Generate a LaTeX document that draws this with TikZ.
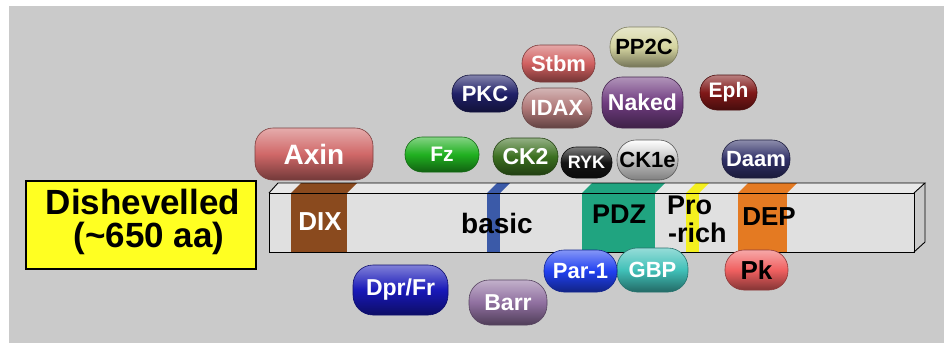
\documentclass[tikz,border=0pt]{standalone}
\usepackage{fontspec}
\setmainfont{Liberation Sans}
\newcommand\pfs[1]{\fontsize{#1}{#1}\selectfont\bfseries}
\definecolor{bggray}{HTML}{CACACA}
\definecolor{barface}{HTML}{E0E0E0}
\definecolor{bartop}{HTML}{E8E8E8}
\definecolor{dixbrown}{HTML}{8A4A1E}
\definecolor{basicblue}{HTML}{3B5AA8}
\definecolor{pdzgreen}{HTML}{20A480}
\definecolor{proyellow}{HTML}{F4F020}
\definecolor{deporange}{HTML}{E47A22}
\definecolor{dvlyellow}{HTML}{FFFF22}
\definecolor{cAxin}{HTML}{D06868}
\definecolor{cFz}{HTML}{20B020}
\definecolor{cCKtwo}{HTML}{3C7020}
\definecolor{cRYK}{HTML}{141414}
\definecolor{cCKone}{HTML}{D8D8D8}
\definecolor{cDaam}{HTML}{303068}
\definecolor{cPKC}{HTML}{202068}
\definecolor{cStbm}{HTML}{D06060}
\definecolor{cPPtwoC}{HTML}{D4D4A0}
\definecolor{cIDAX}{HTML}{B07878}
\definecolor{cNaked}{HTML}{703C80}
\definecolor{cEph}{HTML}{801818}
\definecolor{cDpr}{HTML}{1818B8}
\definecolor{cBarr}{HTML}{9070A0}
\definecolor{cPar}{HTML}{2040F0}
\definecolor{cGBP}{HTML}{40C0B8}
\definecolor{cPk}{HTML}{F06060}
\tikzset{
  pill/.style n args={4}{rectangle, rounded corners=#4, inner sep=0pt,
    minimum width=#2, minimum height=#3,
    top color=#1!55!white, bottom color=#1!55!black, middle color=#1,
    draw=#1!60!black, line width=0.6pt, text=white},
  barline/.style={draw=black, line width=0.9pt},
  bartext/.style={inner sep=0pt, text=black},
}
\begin{document}
\begin{tikzpicture}[x=1pt, y=-1pt]
\useasboundingbox (0,0) rectangle (944,343);
\fill[white] (0,0) rectangle (944,343);
\fill[bggray] (9,6) rectangle (944,343);
% bar
\fill[barface] (269,193) rectangle (914,252);
\fill[bartop] (269,193) -- (278,183) -- (925,183) -- (914,193) -- cycle;
\fill[barface!90!black] (914,193) -- (925,183) -- (925,242) -- (914,252) -- cycle;
% domains
\foreach \a/\b/\c in {291/347/dixbrown, 487/500/basicblue, 582/655/pdzgreen, 686/699/proyellow, 738/787/deporange}{
  \fill[\c] (\a,193) rectangle (\b,252);
  \fill[\c] (\a,193) -- (\a+10,183) -- (\b+10,183) -- (\b,193) -- cycle;
}
\draw[barline] (269,193) rectangle (914,252);
\draw[barline] (269,193) -- (278,183) -- (925,183) -- (914,193);
\draw[barline] (925,183) -- (925,242) -- (914,252);
% bar labels
\node[bartext, text=white, font=\pfs{26}] (dix) at (320,222) {DIX};
\node[bartext, font=\pfs{28}] (basic) at (497,223) {basic};
\node[bartext, font=\pfs{27}] (pdz) at (619,214) {PDZ};
\node[bartext, font=\pfs{27}, anchor=west] (pro) at (667,205) {Pro};
\node[bartext, font=\pfs{27}, anchor=west] (rich) at (668,233) {-rich};
\node[bartext, font=\pfs{26}] (dep) at (769,217) {DEP};
% title box
\node[draw=black, line width=1.5pt, fill=dvlyellow, minimum width=230pt, minimum height=88pt, inner sep=0pt] (dvl) at (141,225) {};
\node[bartext, font=\pfs{35}] (dvlname) at (143,202) {Dishevelled};
\node[bartext, font=\pfs{35}] (dvlsize) at (149,238) {(\textasciitilde650 aa)};
% pills
\node[pill={cAxin}{118pt}{52pt}{18pt}, font=\pfs{28}] (axin) at (314,154) {Axin};
\node[pill={cFz}{74pt}{35pt}{17pt}, font=\pfs{21}] (fz) at (442,154.5) {Fz};
\node[pill={cCKtwo}{65pt}{37pt}{18pt}, font=\pfs{23}] (cktwo) at (525.5,156.5) {CK2};
\node[pill={cRYK}{51pt}{31pt}{15pt}, font=\pfs{18}] (ryk) at (586.5,162.5) {RYK};
\node[pill={cCKone}{61pt}{40pt}{19pt}, top color=white, middle color=white, bottom color=gray, draw=gray!70!black, text=black, font=\pfs{22}] (ckone) at (647.5,160) {CK1e};
\node[pill={cDaam}{68pt}{38pt}{18pt}, font=\pfs{22}] (daam) at (756,159) {Daam};
\node[pill={cPKC}{66pt}{37pt}{18pt}, font=\pfs{22}] (pkc) at (485,93.5) {PKC};
\node[pill={cStbm}{73pt}{37pt}{18pt}, font=\pfs{22}] (stbm) at (558.5,63.5) {Stbm};
\node[pill={cPPtwoC}{68pt}{40pt}{19pt}, text=black, font=\pfs{22}] (pptwoc) at (644,47) {PP2C};
\node[pill={cIDAX}{70pt}{40pt}{19pt}, font=\pfs{22}] (idax) at (557,108) {IDAX};
\node[pill={cNaked}{81pt}{51pt}{20pt}, font=\pfs{23}] (naked) at (642.5,102.5) {Naked};
\node[pill={cEph}{57pt}{35pt}{17pt}, font=\pfs{21}] (eph) at (728.5,92.5) {Eph};
\node[pill={cDpr}{95pt}{50pt}{20pt}, font=\pfs{23}] (dpr) at (400.5,290) {Dpr/Fr};
\node[pill={cBarr}{78pt}{45pt}{20pt}, font=\pfs{23}] (barr) at (508,302.5) {Barr};
\node[pill={cGBP}{71pt}{44pt}{20pt}, font=\pfs{22}] (gbp) at (652.5,270) {GBP};
\node[pill={cPar}{73pt}{42pt}{20pt}, font=\pfs{22}] (par) at (580.5,271) {Par-1};
\node[pill={cPk}{63pt}{40pt}{19pt}, text=black, font=\pfs{26}] (pk) at (756.5,270) {Pk};
\end{tikzpicture}
\end{document}
